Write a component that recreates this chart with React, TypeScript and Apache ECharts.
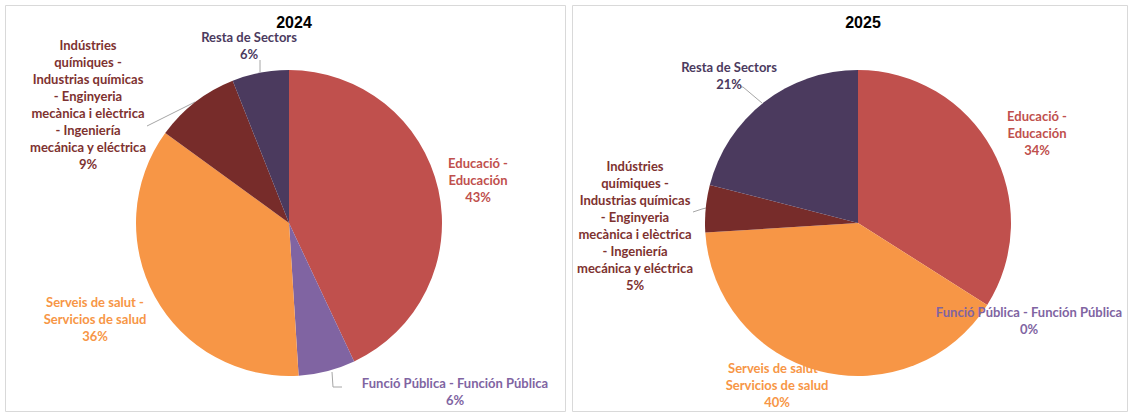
import React, { useEffect, useRef } from "react";
import * as echarts from "echarts";

const categories = [
  "Educació - Educación",
  "Funció Pública - Función Pública",
  "Serveis de salut - Servicios de salud",
  "Indústries químiques - Industrias químicas - Enginyeria mecànica i elèctrica - Ingeniería mecánica y eléctrica",
  "Resta de Sectors",
];
const labelTexts = [
  "Educació -\nEducación",
  "Funció Pública - Función Pública",
  "Serveis de salut -\nServicios de salud",
  "Indústries\nquímiques -\nIndustrias químicas\n- Enginyeria\nmecànica i elèctrica\n- Ingeniería\nmecánica y eléctrica",
  "Resta de Sectors",
];
const years = ["2024", "2025"];
const values2024 = [43, 6, 36, 9, 6];
const values2025 = [34, 0, 40, 5, 21];

const sliceColors = ["#C0504D", "#8064A2", "#F79646", "#772C2A", "#4B3A5E"];
const textColors = ["#C0504D", "#8064A2", "#F79646", "#7E3230", "#4B3A5E"];

// label layout (pixel centres) per chart
const labelPos = [
  [[478, 180], [455, 391], [95, 319], [88, 104], [249, 45]],
  [[1037, 133], [1029, 320], [777, 385], [635, 225], [729, 75]],
];
// leader line polylines (null = no line)
const linePts: (number[][] | null)[][] = [
  [null, [[332, 372], [333, 387], [342, 387]], null, [[195, 102], [187, 106], [147, 126]], [[260, 72], [260, 66], [260, 60]]],
  [null, null, null, [[706, 208], [702, 209], [693, 212]], [[762, 103], [743, 87], [740, 87]]],
];
const centers = [[289, 223], [858, 223]];

export default function App() {
  const ref = useRef<HTMLDivElement>(null);
  useEffect(() => {
    document.body.style.margin = "0";
    const chart = echarts.init(ref.current!, null, { renderer: "svg" });
    const allValues = [values2024, values2025];
    const series = allValues.map((vals, si) => ({
      type: "pie",
      center: centers[si],
      radius: 153,
      startAngle: 90,
      clockwise: true,
      avoidLabelOverlap: false,
      silent: true,
      data: vals.map((v, i) => ({
        name: categories[i],
        value: v,
        itemStyle: { color: sliceColors[i] },
        label: { color: textColors[i] },
        labelLine: { show: !!linePts[si][i] },
      })),
      label: {
        show: true,
        position: "outside",
        fontFamily: "Lato",
        fontWeight: "bold",
        fontSize: 13,
        lineHeight: 17,
        align: "center",
        formatter: (p: any) => `${labelTexts[p.dataIndex]}\n${Math.round(p.percent)}%`,
      },
      labelLine: {
        show: true,
        length: 6,
        length2: 6,
        lineStyle: { color: "#A6A6A6", width: 1 },
      },
      labelLayout: (p: any) => {
        const pos = labelPos[si][p.dataIndex];
        const pts = linePts[si][p.dataIndex];
        const res: any = { x: pos[0], y: pos[1], align: "center", verticalAlign: "middle" };
        if (pts) res.labelLinePoints = pts;
        return res;
      },
    }));
    chart.setOption({
      animation: false,
      backgroundColor: "#FFFFFF",
      title: years.map((y, i) => ({
        text: y,
        left: centers[i][0],
        top: 9,
        textAlign: "center",
        textStyle: {
          fontFamily: "Liberation Sans",
          fontWeight: "bold",
          fontSize: 16,
          color: "#000000",
        },
      })),
      graphic: [
        {
          type: "rect",
          shape: { x: 5.5, y: 5.5, width: 560, height: 406 },
          style: { fill: "none", stroke: "#D9D9D9", lineWidth: 1 },
          silent: true,
        },
        {
          type: "rect",
          shape: { x: 572.5, y: 5.5, width: 555, height: 406 },
          style: { fill: "none", stroke: "#D9D9D9", lineWidth: 1 },
          silent: true,
        },
      ],
      series,
    });
    return () => chart.dispose();
  }, []);
  return <div ref={ref} style={{ width: 1131, height: 415 }} />;
}
